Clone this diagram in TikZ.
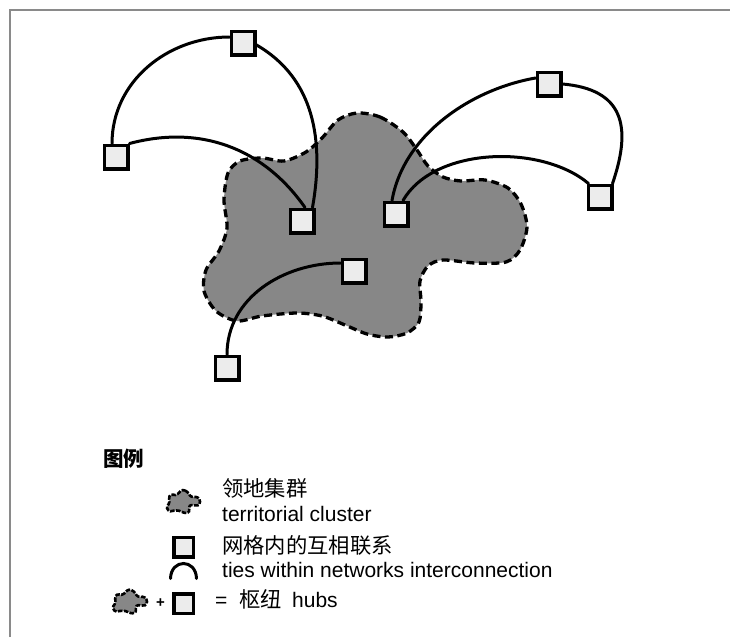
\documentclass[tikz,border=0pt]{standalone}
\usepackage{fontspec}
\setmainfont{Liberation Sans}
\newfontfamily\cjk{Noto Sans CJK SC}

\definecolor{framegray}{RGB}{138,138,138}
\definecolor{clusterfill}{RGB}{135,135,135}
\definecolor{boxfill}{RGB}{236,236,236}

\pgfdeclarelayer{ground}
\pgfdeclarelayer{ties}
\pgfsetlayers{ground,ties,main}

\tikzset{
  hubbox/.style={draw=black, fill=boxfill, line width=3.5pt, minimum size=23.5pt, inner sep=0pt},
  legendbox/.style={hubbox, minimum size=19.5pt},
  tie/.style={line width=3pt, line cap=round},
  clusterline/.style={draw=black, fill=clusterfill, line width=3.3pt, dash pattern=on 8pt off 4.5pt},
  minicluster/.style={draw=black, fill=clusterfill, line width=2.6pt, dash pattern=on 4.5pt off 1.5pt},
  % outline of the territorial cluster, centred on its own origin
  territory/.pic={
    \path[pic actions, shift={(-365,-225)}]
      plot[smooth cycle] coordinates {
        (357,113) (380,117) (403,132) (417,150) (428,166) (443,177) (461,181)
        (485,180) (508,188) (521,204) (527,227) (520,250) (506,262) (475,263)
        (443,260) (428,266) (420,281) (421,302) (419,322) (407,333) (388,337)
        (367,334) (345,325) (322,316) (297,313) (262,316) (237,321) (216,311)
        (204,291) (206,270) (219,251) (227,228) (224,200) (228,173) (240,161)
        (262,158) (284,161) (306,152) (322,138) (338,120)};
  },
  lat/.style={inner sep=0pt, anchor=base west, font=\fontsize{21}{25}\selectfont},
  han/.style={inner sep=0pt, anchor=base west, font=\cjk\fontsize{21.3}{25}\selectfont},
}

\begin{document}
\begin{tikzpicture}[x=1pt, y=-1pt]
  \useasboundingbox (0,0) rectangle (730,637);

  % frame
  \draw[framegray, line width=2pt] (10,637) -- (10,10) -- (730,10);

  % territorial cluster
  \begin{pgfonlayer}{ground}
    \pic[clusterline] at (365,225) {territory};
  \end{pgfonlayer}

  % hubs
  \node[hubbox] (hubT) at (243,43) {};
  \node[hubbox] (hubL) at (116,157) {};
  \node[hubbox] (hubC) at (302,221) {};
  \node[hubbox] (hubD) at (549,84) {};
  \node[hubbox] (hubE) at (600,197) {};
  \node[hubbox] (hubF) at (396,214) {};
  \node[hubbox] (hubG) at (354,271) {};
  \node[hubbox] (hubH) at (227,368) {};

  % ties between hubs, kept beneath the hub boxes
  \begin{pgfonlayer}{ties}
    \draw[tie] ([xshift=-4pt]hubL.north) to[out=90, in=180] ([yshift=6pt]hubT.west);
    \draw[tie] ([yshift=-2pt]hubT.east) to[out=-30, in=80] ([xshift=-3pt]hubC.north east);
    \draw[tie] (hubL.north east) to[out=15, in=125] ([xshift=3pt]hubC.north);
    \draw[tie] ([xshift=-4pt]hubF.north) to[out=80, in=190, looseness=0.9] ([yshift=6pt]hubD.west);
    \draw[tie] ([xshift=7pt]hubF.north) to[out=60, in=140, looseness=0.85] ([xshift=2pt]hubE.north west);
    \draw[tie] (hubD.east) to[out=-5, in=71, looseness=1.4] ([xshift=-1pt]hubE.north east);
    \draw[tie] ([yshift=8pt]hubG.west) to[out=180, in=90] (hubH.north);
  \end{pgfonlayer}

  % legend
  \node[inner sep=0pt, anchor=base west, font=\cjk\bfseries\fontsize{20.5}{24}\selectfont] (legendTitle) at (103,466) {图例};

  \pic[minicluster, scale=0.102] at (183.5,501.5) {territory};
  \node[han] (lgClusterCn) at (222,496.5) {领地集群};
  \node[lat] (lgClusterEn) at (222,521) {territorial cluster};

  \node[legendbox] (lgBox) at (183.5,547) {};
  \draw[tie] (170.5,578.5) .. controls (171,558.5) and (196,558.5) .. (196.5,578.5);
  \node[han] (lgTieCn) at (222,553.5) {网格内的互相联系};
  \node[lat] (lgTieEn) at (222,577.5) {ties within networks interconnection};

  \pic[minicluster, scale=0.105] at (130,601.5) {territory};
  \node[inner sep=0pt, font=\bfseries\fontsize{15}{18}\selectfont] (lgPlus) at (160.5,603.5) {+};
  \node[legendbox] (lgHubBox) at (183.5,603.5) {};
  \node[lat] (lgEq) at (215,607) {=};
  \node[han] (lgHubCn) at (239,607.5) {枢纽};
  \node[lat] (lgHubEn) at (292,607) {hubs};
\end{tikzpicture}
\end{document}
